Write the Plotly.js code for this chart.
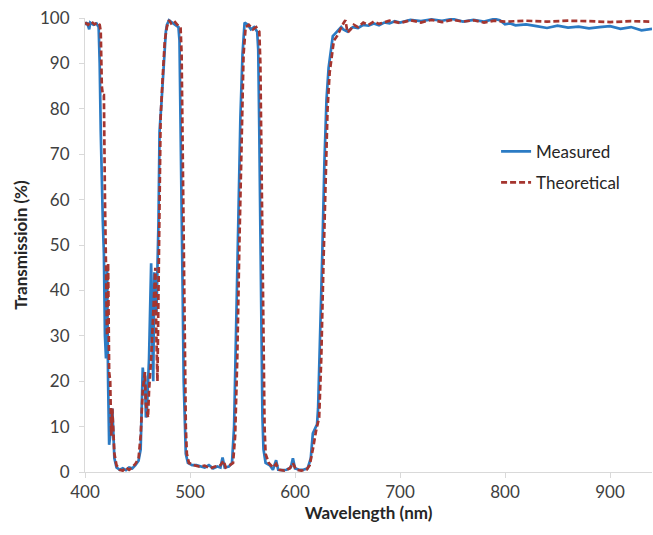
<!DOCTYPE html>
<html>
<head>
<meta charset="utf-8">
<script src="https://cdn.plot.ly/plotly-3.0.1.min.js"></script>
<style>html,body{margin:0;padding:0;background:#fff;}#chart{width:653px;height:535px;}</style>
</head>
<body>
<div id="chart"></div>
<script>
var measuredWavelength = [400,402,404,405,408,411,413,414,415,416,417,418,419,420,421,422,423,424,425,426,427,428,430,433,436,439,442,445,448,451,453,455,456,457,458,459,461,462,463,464,465,466,467,468,470,471,473,475,477,478,480,483,486,489,490,491,492,493,494,495,496,498,502,506,510,514,518,522,526,529,531,533,537,540,542,544,546,548,550,552,555,558,561,564,565,566,567,568,569,570,572,576,579,582,584,588,592,596,598,600,604,608,612,615,617,619,621,622,624,626,628,630,632,634,636,638,640,642,644,646,650,655,660,665,670,675,680,685,690,695,700,710,720,730,740,750,760,770,780,790,795,800,805,810,820,830,840,850,860,870,880,890,900,910,920,930,940];
var measuredT = [98.5,99,97.5,99,98.5,98.8,98,90,75,63,55,48,30,25,45,20,6,8,13,14,8,3,1,0.5,0.8,0.4,1,0.8,1.5,2.5,5,23,20,22,12,14,25,40,46,30,20,44,40,35,55,75,82,90,97,98.5,99.5,99,98.5,98,95,80,60,40,20,8,4,2,1.5,1.5,1.2,1,1.5,0.8,1.2,1,3.2,1,1.2,2,10,30,55,78,92,99,98.5,97.5,98,97,93,75,50,28,12,5,2,1.5,0.5,2.6,0.5,0.4,0.5,1,3,0.8,0.5,0.5,0.8,3,8.5,9.5,10.5,14,30,48,68,82,89,93,96,96.5,97,97.5,98,97.5,97,98,97.8,98.5,98.3,98.8,98.4,99,98.8,99.3,99,99.6,99.3,99.7,99.4,99.8,99.2,99.6,99.2,99.8,99.5,98.6,98.8,98.4,98.6,98.2,97.8,98.3,97.9,98.1,97.7,98,98.2,97.6,98,97.3,97.6];

var theoWavelength = [400,403,406,409,412,414,415,416,417,418,419,420,421,422,423,424,425,426,427,428,430,433,436,439,442,445,448,451,453,455,457,458,460,461,463,465,467,468,469,470,472,474,476,478,480,482,485,488,491,492,493,494,495,496,497,499,504,509,514,519,524,529,532,534,538,541,543,545,547,549,551,553,556,560,563,566,567,568,569,570,571,572,575,579,582,585,590,595,598,601,606,611,614,617,620,623,625,627,629,631,633,635,637,640,643,646,648,650,653,656,660,665,670,675,680,690,700,710,720,730,740,750,760,770,780,790,800,820,840,860,880,900,920,940];
var theoT = [99,98.5,99.2,98.6,99,98.5,97,85,83,83,60,48,30,46,22,20,8,14,10,4,1.5,0.5,0.3,1,0.5,1,1.8,3,8,18,22,15,12,18,25,35,45,30,20,40,78,87,95,98,99.5,98.8,99.3,98.5,98,92,70,45,25,10,4,2,1.5,1.2,1.4,0.8,1.2,1.5,2.5,1,1.5,2,8,25,50,75,92,98,98.5,97.5,98,97,90,70,45,22,10,4,2,1,1.8,0.5,0.3,0.8,2,0.5,0.3,0.5,1.5,5,9,12,25,45,65,80,88,92,95,96,97.5,98.8,99.5,96.8,97.5,98.5,98,99,98.5,99.2,98.7,99.4,98.9,99.5,99,99.6,99.1,99.6,99.2,99.5,99,99.4,99.2,99.4,99.2,99.4,99.3,99.1,99.3,99.2];

var xTicks = [400,500,600,700,800,900];
var yTicks = [0,10,20,30,40,50,60,70,80,90,100];

var traces = [
  {x: measuredWavelength, y: measuredT, name: 'Measured', type: 'scatter', mode: 'lines', legendgroup: 'm',
   line: {color: '#2B7BC4', width: 2.7}},
  {x: theoWavelength, y: theoT, name: 'Theoretical', type: 'scatter', mode: 'lines', legendgroup: 't',
   line: {color: '#A5352F', width: 2.7, dash: '6px,3px'}}
];

var font = 'Lato, "Liberation Sans", sans-serif';
var layout = {
  width: 653, height: 535,
  margin: {l: 85, r: 1, t: 18, b: 63},
  paper_bgcolor: '#ffffff', plot_bgcolor: '#ffffff',
  font: {family: font, size: 17, color: '#404040'},
  showlegend: true,
  legend: {x: 0.725, y: 0.745, xanchor: 'left', yanchor: 'top', font: {family: font, size: 17, color: '#262626'},
           bgcolor: 'rgba(0,0,0,0)', tracegroupgap: 6, itemwidth: 30},
  xaxis: {range: [400, 940], tickvals: xTicks, ticktext: xTicks.map(String), showgrid: false, zeroline: false,
          showline: true, linecolor: '#D9D9D9', linewidth: 1, ticks: 'outside', ticklen: 5, tickcolor: '#D9D9D9',
          tickfont: {family: font, size: 17, color: '#404040'},
          title: {text: 'Wavelength (nm)', font: {family: font, size: 17, color: '#262626', weight: 'bold'}, standoff: 2}},
  yaxis: {range: [0, 100], tickvals: yTicks, ticktext: yTicks.map(String), showgrid: false, zeroline: false,
          showline: true, linecolor: '#D9D9D9', linewidth: 1, ticks: 'outside', ticklen: 5, tickcolor: '#D9D9D9',
          ticklabelstandoff: 6,
          tickfont: {family: font, size: 17, color: '#404040'},
          title: {text: 'Transmissioin (%)', font: {family: font, size: 17, color: '#262626', weight: 'bold'}, standoff: 8}}
};

Plotly.newPlot('chart', traces, layout, {displayModeBar: false, staticPlot: true});
</script>
</body>
</html>
